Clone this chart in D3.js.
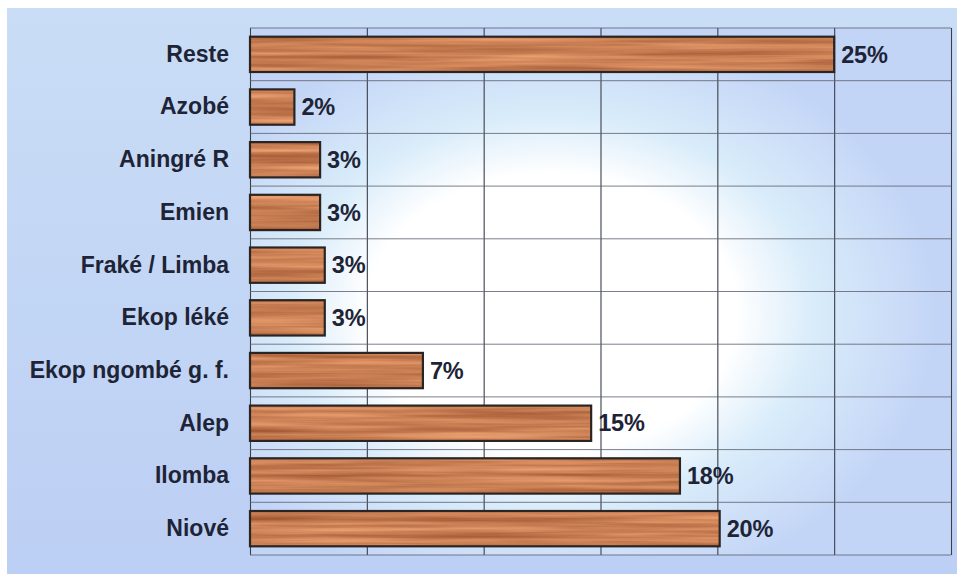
<!DOCTYPE html>
<html>
<head>
<meta charset="utf-8">
<script src="https://cdn.jsdelivr.net/npm/d3@7"></script>
<style>
  html, body { margin: 0; padding: 0; background: #ffffff; }
  svg { display: block; }
  text { font-family: "Liberation Sans", Arial, sans-serif; }
</style>
</head>
<body>
<svg id="chart" width="957" height="574"></svg>
<script>
// Share of each species (%), listed top to bottom
const species = ["Reste", "Azobé", "Aningré R", "Emien", "Fraké / Limba",
                 "Ekop léké", "Ekop ngombé g. f.", "Alep", "Ilomba", "Niové"];
const shares  = [25, 1.9, 3.0, 3.0, 3.2, 3.2, 7.4, 14.6, 18.4, 20.1];
const xTicks  = [0, 5, 10, 15, 20, 25, 30];

const W = 957, H = 574;
const plot = { left: 250, right: 951, top: 28, bottom: 555 };

const svg = d3.select("#chart");
const defs = svg.append("defs");

// Panel background
const panelGrad = defs.append("linearGradient")
  .attr("id", "panelGrad").attr("x1", 0).attr("y1", 0).attr("x2", 0).attr("y2", 1);
panelGrad.append("stop").attr("offset", 0).attr("stop-color", "#c9ddf6");
panelGrad.append("stop").attr("offset", 1).attr("stop-color", "#bccff4");

// Glow over the plotting area
const glow = defs.append("radialGradient")
  .attr("id", "glow").attr("cx", 0.43).attr("cy", 0.54).attr("r", 0.55)
  .attr("fx", 0.43).attr("fy", 0.54);
glow.append("stop").attr("offset", 0).attr("stop-color", "#ffffff");
glow.append("stop").attr("offset", 0.48).attr("stop-color", "#ffffff");
glow.append("stop").attr("offset", 0.68).attr("stop-color", "#d9ecfa");
glow.append("stop").attr("offset", 1).attr("stop-color", "#c3d5f6");

// Wood grain fill for the bars
const wood = defs.append("filter").attr("id", "wood")
  .attr("x", 0).attr("y", 0).attr("width", 1).attr("height", 1)
  .attr("color-interpolation-filters", "sRGB");
wood.append("feTurbulence")
  .attr("type", "fractalNoise").attr("baseFrequency", "0.005 0.18")
  .attr("numOctaves", 3).attr("seed", 7).attr("result", "noise");
wood.append("feColorMatrix").attr("in", "noise").attr("type", "matrix")
  .attr("values", "0.38 0 0 0 0.60  0.38 0 0 0 0.31  0.32 0 0 0 0.17  0 0 0 0 1")
  .attr("result", "grain");
wood.append("feComposite").attr("in", "grain").attr("in2", "SourceGraphic")
  .attr("operator", "in");

svg.append("rect").attr("x", 7).attr("y", 8).attr("width", W - 7).attr("height", H - 8)
  .attr("fill", "url(#panelGrad)");

svg.append("rect")
  .attr("x", plot.left).attr("y", plot.top)
  .attr("width", plot.right - plot.left).attr("height", plot.bottom - plot.top)
  .attr("fill", "url(#glow)");

// Scales
const x = d3.scaleLinear().domain([0, 30]).range([plot.left, plot.right]);
const y = d3.scaleBand().domain(species).range([plot.top, plot.bottom])
  .paddingInner(0.33).paddingOuter(0.165);

// Vertical gridlines
svg.append("g")
  .attr("transform", `translate(0,${plot.bottom})`)
  .call(d3.axisBottom(x).tickValues(xTicks).tickSize(-(plot.bottom - plot.top)).tickFormat(""))
  .call(g => g.select(".domain").remove())
  .call(g => g.selectAll(".tick line").attr("stroke", "#3c3f4c").attr("stroke-width", 1.1));

// Horizontal gridlines at category boundaries
const step = y.step();
svg.append("g").selectAll("line")
  .data(d3.range(species.length + 1))
  .join("line")
  .attr("x1", plot.left).attr("x2", plot.right)
  .attr("y1", i => plot.top + i * step).attr("y2", i => plot.top + i * step)
  .attr("stroke", "#5a5f6e").attr("stroke-width", 1).attr("stroke-opacity", 0.8);

// Bars
const bars = svg.append("g");
bars.selectAll("rect.fill")
  .data(species)
  .join("rect")
  .attr("class", "fill")
  .attr("x", x(0)).attr("y", d => y(d))
  .attr("width", (d, i) => x(shares[i]) - x(0))
  .attr("height", y.bandwidth())
  .attr("fill", "#c98b5c")
  .attr("filter", "url(#wood)");
bars.selectAll("rect.edge")
  .data(species)
  .join("rect")
  .attr("class", "edge")
  .attr("x", x(0)).attr("y", d => y(d))
  .attr("width", (d, i) => x(shares[i]) - x(0))
  .attr("height", y.bandwidth())
  .attr("fill", "none")
  .attr("stroke", "#2a2422").attr("stroke-width", 2.2);

// Category labels
svg.append("g")
  .attr("transform", `translate(${plot.left},0)`)
  .call(d3.axisLeft(y).tickSize(0).tickPadding(21))
  .call(g => g.select(".domain").remove())
  .call(g => g.selectAll("text")
    .attr("fill", "#1e2436")
    .attr("font-size", 23)
    .attr("font-weight", "bold")
    .attr("font-family", "'Liberation Sans', Arial, sans-serif"));

// Value labels
const fmt = d3.format(".0%");
svg.append("g").selectAll("text")
  .data(species)
  .join("text")
  .attr("x", (d, i) => x(shares[i]) + 7)
  .attr("y", d => y(d) + y.bandwidth() / 2)
  .attr("dy", "0.35em")
  .attr("fill", "#1e2436")
  .attr("font-size", 23.5)
  .attr("font-weight", "bold")
  .attr("letter-spacing", -0.2)
  .text((d, i) => fmt(shares[i] / 100));
</script>
</body>
</html>
